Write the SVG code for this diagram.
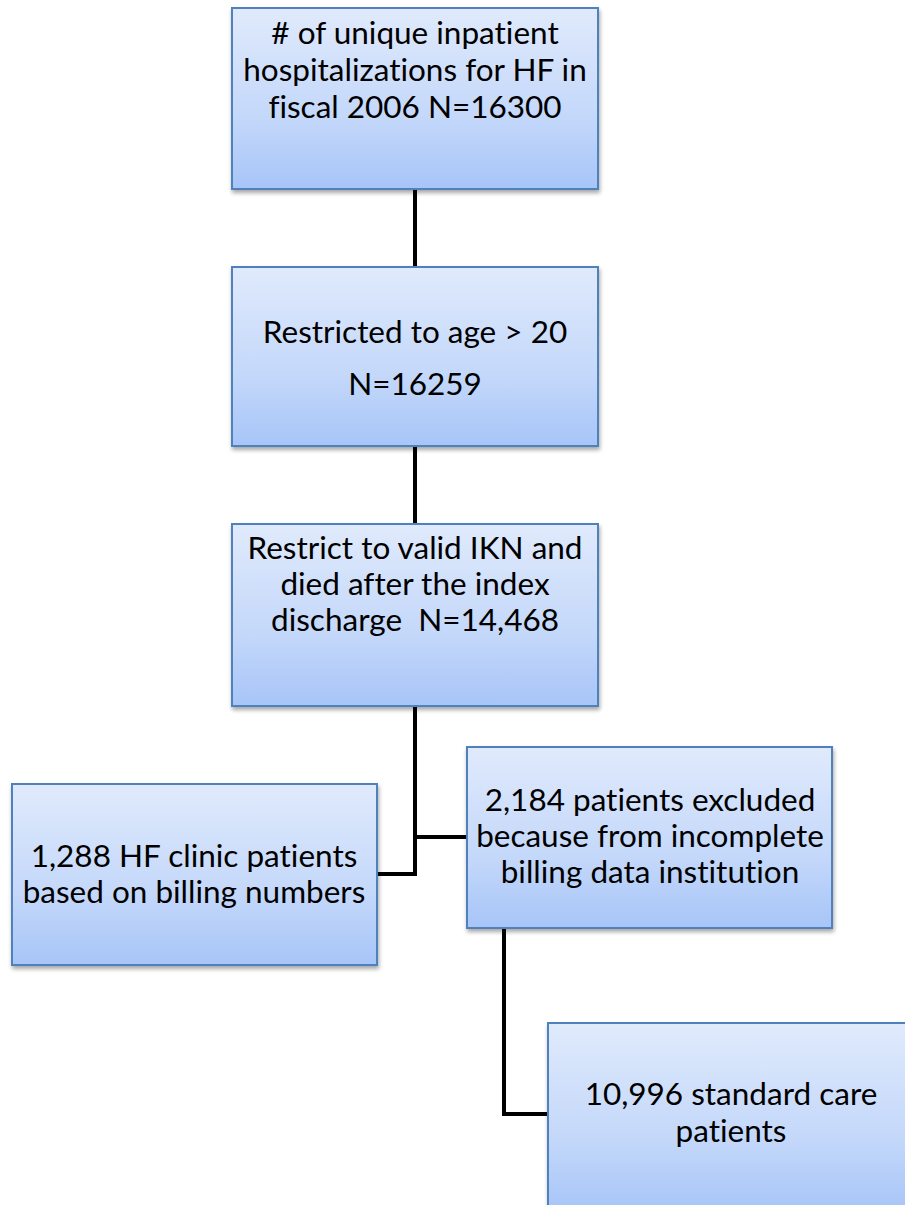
<svg xmlns="http://www.w3.org/2000/svg" width="905" height="1205" viewBox="0 0 905 1205">
<style>
.box{fill:url(#g);stroke:#4f81bd;stroke-width:2;filter:url(#sh)}
.t{font-family:Lato,"Open Sans",sans-serif;font-size:31.5px;fill:#000;text-anchor:middle;font-variant-ligatures:none}
.c{fill:none;stroke:#000;stroke-width:4;stroke-linejoin:miter}
</style>
<defs>
<linearGradient id="g" x1="0" y1="0" x2="0" y2="1">
<stop offset="0" stop-color="#e0eafc"/>
<stop offset="0.6" stop-color="#c4d8fa"/>
<stop offset="1" stop-color="#a7c5f8"/>
</linearGradient>
<filter id="sh" x="-5%" y="-5%" width="115%" height="115%">
<feGaussianBlur in="SourceAlpha" stdDeviation="2"/>
<feOffset dx="1" dy="3" result="b"/>
<feComponentTransfer><feFuncA type="linear" slope="0.35"/></feComponentTransfer>
<feMerge><feMergeNode/><feMergeNode in="SourceGraphic"/></feMerge>
</filter>
</defs>
<rect width="905" height="1205" fill="#fff"/>
<g id="connectors">
<path class="c" d="M415 190V267"/>
<path class="c" d="M415 446V524"/>
<path class="c" d="M415 706V874H376"/>
<path class="c" d="M415 837H467"/>
<path class="c" d="M504 928V1114H548"/>
</g>
<g id="n1">
<rect class="box" x="232" y="8" width="366" height="181"/>
<text class="t"><tspan x="415" y="44"># of unique inpatient</tspan><tspan x="415" y="81">hospitalizations for HF in</tspan><tspan x="415" y="118">fiscal 2006 N=16300</tspan></text>
</g>
<g id="n2">
<rect class="box" x="232" y="267" width="366" height="179"/>
<text class="t"><tspan x="415" y="343">Restricted to age &gt; 20</tspan><tspan x="415" y="395">N=16259</tspan></text>
</g>
<g id="n3">
<rect class="box" x="232" y="524" width="366" height="182"/>
<text class="t"><tspan x="415" y="559">Restrict to valid IKN and</tspan><tspan x="415" y="595">died after the index</tspan><tspan x="415" y="631" xml:space="preserve">discharge  N=14,468</tspan></text>
</g>
<g id="n4">
<rect class="box" x="12" y="784" width="365" height="181"/>
<text class="t"><tspan x="194" y="867">1,288 HF clinic patients</tspan><tspan x="194" y="903">based on billing numbers</tspan></text>
</g>
<g id="n5">
<rect class="box" x="467" y="747" width="365" height="181"/>
<text class="t"><tspan x="650" y="811">2,184 patients excluded</tspan><tspan x="650" y="847">because from incomplete</tspan><tspan x="650" y="883">billing data institution</tspan></text>
</g>
<g id="n6">
<rect class="box" x="548" y="1023" width="366" height="190"/>
<text class="t"><tspan x="731" y="1105">10,996 standard care</tspan><tspan x="731" y="1142">patients</tspan></text>
</g>
</svg>
